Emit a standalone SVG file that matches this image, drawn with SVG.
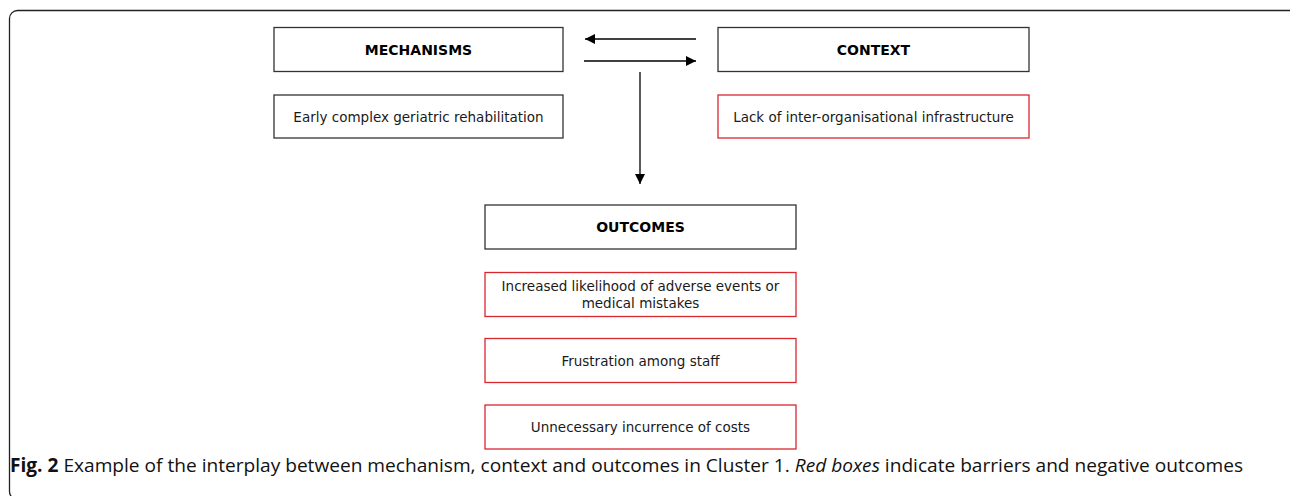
<svg xmlns="http://www.w3.org/2000/svg" width="1290" height="496" viewBox="0 0 1290 496">
<defs>
<style>
.box{fill:#fff;stroke:#333;stroke-width:1.3}
.red{fill:#fff;stroke:#d9272e;stroke-width:1.3}
.t{font-family:"DejaVu Sans",Verdana,sans-serif;font-size:13.5px;fill:#1a1a1a;text-anchor:middle}
.b{font-family:"DejaVu Sans",Verdana,sans-serif;font-size:14px;font-weight:bold;fill:#000;text-anchor:middle}
.cap{font-family:"Open Sans","Noto Sans",sans-serif;font-size:19px;fill:#111}
.c{stroke:#000;stroke-width:1.3;fill:none}
</style>
<marker id="ah" viewBox="0 0 10 10" refX="10" refY="5" markerWidth="10" markerHeight="10" markerUnits="userSpaceOnUse" orient="auto">
<path d="M0,0 L10,5 L0,10 z" fill="#000"/>
</marker>
</defs>
<rect x="9.5" y="10.5" width="1300" height="489" rx="8" fill="#fff" stroke="#222" stroke-width="1.3"/>
<g id="mechanisms"><rect class="box" x="274" y="27.5" width="289" height="44"/><text class="b" x="418.5" y="54.5">MECHANISMS</text></g>
<g id="mech-item"><rect class="box" x="274" y="95" width="289" height="43"/><text class="t" x="418.5" y="121.5">Early complex geriatric rehabilitation</text></g>
<g id="context"><rect class="box" x="718" y="27.5" width="311" height="44"/><text class="b" x="873.5" y="54.5">CONTEXT</text></g>
<g id="context-item"><rect class="red" x="718" y="95" width="311" height="43"/><text class="t" x="873.5" y="121.5">Lack of inter-organisational infrastructure</text></g>
<g id="outcomes"><rect class="box" x="485" y="205" width="311" height="44"/><text class="b" x="640.5" y="232">OUTCOMES</text></g>
<g id="outcome1"><rect class="red" x="485" y="272.5" width="311" height="44"/><text class="t" x="640.5" y="290.5">Increased likelihood of adverse events or</text><text class="t" x="640.5" y="307.5">medical mistakes</text></g>
<g id="outcome2"><rect class="red" x="485" y="338.5" width="311" height="44"/><text class="t" x="640.5" y="365.5">Frustration among staff</text></g>
<g id="outcome3"><rect class="red" x="485" y="405" width="311" height="44"/><text class="t" x="640.5" y="432">Unnecessary incurrence of costs</text></g>
<g id="connectors">
<line class="c" x1="696" y1="39" x2="585" y2="39" marker-end="url(#ah)"/>
<line class="c" x1="584" y1="61" x2="696" y2="61" marker-end="url(#ah)"/>
<line class="c" x1="640" y1="72" x2="640" y2="184" marker-end="url(#ah)"/>
</g>
<text class="cap" x="10" y="472" textLength="1233" lengthAdjust="spacingAndGlyphs"><tspan font-weight="bold">Fig. 2</tspan> Example of the interplay between mechanism, context and outcomes in Cluster 1. <tspan font-style="italic">Red boxes</tspan> indicate barriers and negative outcomes</text>
</svg>
